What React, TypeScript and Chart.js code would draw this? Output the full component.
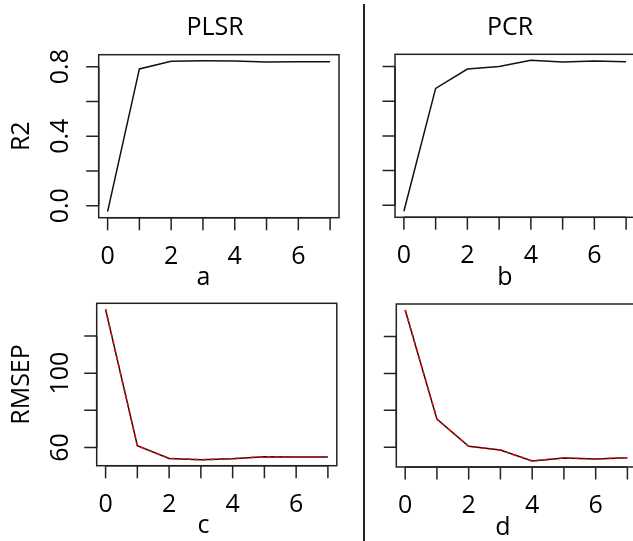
import { useEffect, useRef } from "react";
import { Chart, registerables } from "chart.js";

Chart.register(...registerables);

// ---- data ----
const components = [0, 1, 2, 3, 4, 5, 6, 7];
const plsrR2 = [-0.034, 0.787, 0.831, 0.834, 0.833, 0.827, 0.828, 0.828];
const pcrR2 = [-0.035, 0.674, 0.786, 0.801, 0.836, 0.827, 0.832, 0.828];
const plsrRmsepCV = [134.4, 60.9, 54.1, 53.4, 53.9, 55.0, 54.8, 54.8];
const plsrRmsepAdjCV = [134.4, 60.9, 54.1, 53.4, 53.9, 55.0, 54.8, 54.8];
const pcrRmsepCV = [134.4, 75.2, 60.5, 58.4, 52.5, 54.1, 53.6, 54.3];
const pcrRmsepAdjCV = [134.4, 75.2, 60.5, 58.4, 52.5, 54.1, 53.6, 54.3];

const xTicks = [0, 1, 2, 3, 4, 5, 6, 7];
const xTickLabelValues = [0, 2, 4, 6];
const r2Ticks = [0, 0.2, 0.4, 0.6, 0.8];
const r2TickLabelValues = [0, 0.4, 0.8];
const r2TickLabels = ["0.0", "0.4", "0.8"];
const rmsepTicks = [60, 80, 100, 120];
const rmsepTickLabelValues = [60, 100];
const rmsepTickLabels = ["60", "100"];
const methodTitles = ["PLSR", "PCR"];
const panelLetters = ["a", "b", "c", "d"];
const yAxisTitles = ["R2", "RMSEP"];

// ---- layout / styles ----
const CW = 640;
const CH = 541;
const FONT = "25px 'Open Sans', 'DejaVu Sans', sans-serif";
const INK = "#000";
const LINE = "#111";
const BOX = "#222";

type Series = { values: number[]; color: string; dash: number[]; order: number };
type Panel = {
  box: { l: number; t: number; r: number; b: number };
  series: Series[];
  yTicks: number[];
  yLabelValues: number[] | null;
  yLabels: string[] | null;
  yTitle: string | null;
  title: string | null;
  letter: string;
  letterX: number;
  titleX: number;
};

const panels: Panel[] = [
  {
    box: { l: 98.7, t: 54.7, r: 339, b: 217.7 },
    series: [{ values: plsrR2, color: LINE, dash: [], order: 1 }],
    yTicks: r2Ticks,
    yLabelValues: r2TickLabelValues,
    yLabels: r2TickLabels,
    yTitle: yAxisTitles[0],
    title: methodTitles[0],
    letter: panelLetters[0],
    letterX: 203.5,
    titleX: 215,
  },
  {
    box: { l: 395, t: 54.3, r: 635, b: 217.3 },
    series: [{ values: pcrR2, color: LINE, dash: [], order: 1 }],
    yTicks: r2Ticks,
    yLabelValues: null,
    yLabels: null,
    yTitle: null,
    title: methodTitles[1],
    letter: panelLetters[1],
    letterX: 505,
    titleX: 510,
  },
  {
    box: { l: 96.7, t: 303.3, r: 336.8, b: 465.7 },
    series: [
      { values: plsrRmsepCV, color: LINE, dash: [], order: 1 },
      { values: plsrRmsepAdjCV, color: "#ff0000", dash: [4, 4], order: 0 },
    ],
    yTicks: rmsepTicks,
    yLabelValues: rmsepTickLabelValues,
    yLabels: rmsepTickLabels,
    yTitle: yAxisTitles[1],
    title: null,
    letter: panelLetters[2],
    letterX: 203.5,
    titleX: 0,
  },
  {
    box: { l: 396.3, t: 304, r: 636.3, b: 467 },
    series: [
      { values: pcrRmsepCV, color: LINE, dash: [], order: 1 },
      { values: pcrRmsepAdjCV, color: "#ff0000", dash: [4, 4], order: 0 },
    ],
    yTicks: rmsepTicks,
    yLabelValues: null,
    yLabels: null,
    yTitle: null,
    title: null,
    letter: panelLetters[3],
    letterX: 503,
    titleX: 0,
  },
];

function makeAxesPlugin(p: Panel) {
  return {
    id: "rAxes",
    afterDatasetsDraw(chart: any) {
      const ctx: CanvasRenderingContext2D = chart.ctx;
      const xs = chart.scales.x;
      const ys = chart.scales.y;
      const { left, top, right, bottom } = chart.chartArea;
      ctx.save();
      ctx.strokeStyle = BOX;
      ctx.lineWidth = 1.5;
      ctx.setLineDash([]);
      ctx.strokeRect(left, top, right - left, bottom - top);

      const TL = 12.5;
      ctx.beginPath();
      const x0 = xs.getPixelForValue(xTicks[0]);
      const x1 = xs.getPixelForValue(xTicks[xTicks.length - 1]);
      ctx.moveTo(x0, bottom);
      ctx.lineTo(x1, bottom);
      for (const v of xTicks) {
        const px = xs.getPixelForValue(v);
        ctx.moveTo(px, bottom);
        ctx.lineTo(px, bottom + TL);
      }
      const y0 = ys.getPixelForValue(p.yTicks[0]);
      const y1 = ys.getPixelForValue(p.yTicks[p.yTicks.length - 1]);
      ctx.moveTo(left, y0);
      ctx.lineTo(left, y1);
      for (const v of p.yTicks) {
        const py = ys.getPixelForValue(v);
        ctx.moveTo(left, py);
        ctx.lineTo(left - TL, py);
      }
      ctx.stroke();

      ctx.fillStyle = INK;
      ctx.font = FONT;
      ctx.textAlign = "center";
      ctx.textBaseline = "alphabetic";
      for (const v of xTickLabelValues) {
        ctx.fillText(String(v), xs.getPixelForValue(v), bottom + 46);
      }
      ctx.fillText(p.letter, p.letterX, bottom + 67.5);
      if (p.title) ctx.fillText(p.title, p.titleX, 35);

      if (p.yLabelValues && p.yLabels) {
        p.yLabelValues.forEach((v, i) => {
          ctx.save();
          ctx.translate(68, ys.getPixelForValue(v));
          ctx.rotate(-Math.PI / 2);
          ctx.fillText(p.yLabels![i], 0, 0);
          ctx.restore();
        });
      }
      if (p.yTitle) {
        ctx.save();
        ctx.translate(29, (top + bottom) / 2);
        ctx.rotate(-Math.PI / 2);
        ctx.fillText(p.yTitle, 0, 0);
        ctx.restore();
      }
      ctx.restore();
    },
  };
}

function PanelCanvas({ p }: { p: Panel }) {
  const ref = useRef<HTMLCanvasElement | null>(null);
  useEffect(() => {
    if (!ref.current) return;
    const all = p.series.flatMap((s) => s.values);
    const mn = Math.min(...all);
    const mx = Math.max(...all);
    const pad = (mx - mn) * 0.04;
    const chart = new Chart(ref.current, {
      type: "line",
      data: {
        datasets: p.series.map((s) => ({
          data: components.map((x, i) => ({ x, y: s.values[i] })),
          borderColor: s.color,
          borderWidth: 1.5,
          borderDash: s.dash,
          order: s.order,
          pointRadius: 0,
          tension: 0,
          fill: false,
        })),
      },
      options: {
        animation: false,
        responsive: false,
        maintainAspectRatio: false,
        devicePixelRatio: 1,
        events: [],
        layout: {
          padding: {
            left: p.box.l,
            top: p.box.t,
            right: CW - p.box.r,
            bottom: CH - p.box.b,
          },
        },
        plugins: {
          legend: { display: false },
          tooltip: { enabled: false },
        },
        scales: {
          x: { type: "linear", display: false, min: -0.28, max: 7.28 },
          y: { type: "linear", display: false, min: mn - pad, max: mx + pad },
        },
      },
      plugins: [makeAxesPlugin(p)],
    } as any);
    return () => chart.destroy();
  }, [p]);
  return (
    <canvas
      ref={ref}
      width={CW}
      height={CH}
      style={{ position: "absolute", left: 0, top: 0, width: CW, height: CH }}
    />
  );
}

export default function App() {
  return (
    <div
      style={{
        position: "absolute",
        left: 0,
        top: 0,
        width: 633,
        height: 541,
        overflow: "hidden",
        background: "#fff",
      }}
    >
      {panels.map((p, i) => (
        <PanelCanvas key={i} p={p} />
      ))}
      <div
        style={{
          position: "absolute",
          left: 363.3,
          top: 4,
          width: 1.5,
          height: 537,
          background: "#222",
        }}
      />
    </div>
  );
}
